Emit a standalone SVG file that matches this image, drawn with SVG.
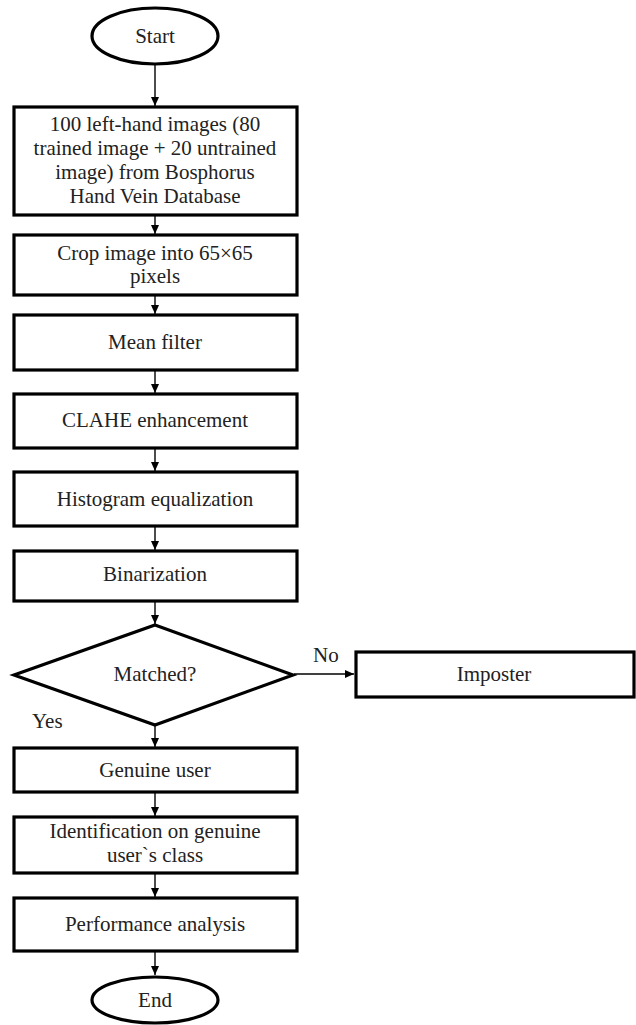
<svg xmlns="http://www.w3.org/2000/svg" width="636" height="1025" viewBox="0 0 636 1025">
<style>
.box{fill:#fff;stroke:#000;stroke-width:3.2}
.t{font-family:"Liberation Serif","Times New Roman",serif;font-size:21px;fill:#222;text-anchor:middle}
.l{font-family:"Liberation Serif","Times New Roman",serif;font-size:21px;fill:#222}
.c{stroke:#000;stroke-width:1.4;fill:none;marker-end:url(#ah)}
</style>
<defs>
<marker id="ah" markerWidth="10" markerHeight="10" refX="9" refY="5" orient="auto" markerUnits="userSpaceOnUse">
<path d="M0,1 L9,5 L0,9 Z" fill="#000"/>
</marker>
</defs>
<rect width="636" height="1025" fill="#fff"/>
<g id="connectors">
<line class="c" x1="155" y1="65" x2="155" y2="106"/>
<line class="c" x1="155" y1="215" x2="155" y2="234"/>
<line class="c" x1="155" y1="296" x2="155" y2="314"/>
<line class="c" x1="155" y1="371" x2="155" y2="393"/>
<line class="c" x1="155" y1="449" x2="155" y2="471"/>
<line class="c" x1="155" y1="527" x2="155" y2="550"/>
<line class="c" x1="155" y1="602" x2="155" y2="624"/>
<line class="c" x1="294" y1="674" x2="354" y2="674"/>
<line class="c" x1="155" y1="726" x2="155" y2="747"/>
<line class="c" x1="155" y1="793" x2="155" y2="816"/>
<line class="c" x1="155" y1="874" x2="155" y2="897"/>
<line class="c" x1="155" y1="952" x2="155" y2="975"/>
<text class="l" x="313" y="662">No</text>
<text class="l" x="32" y="728">Yes</text>
</g>
<g id="start">
<ellipse class="box" cx="155" cy="36" rx="63" ry="28"/>
<text class="t" x="155" y="43">Start</text>
</g>
<g id="input">
<rect class="box" x="14" y="107" width="283" height="108"/>
<text class="t" x="155" y="131">100 left-hand images (80</text>
<text class="t" x="155" y="155">trained image + 20 untrained</text>
<text class="t" x="155" y="179">image) from Bosphorus</text>
<text class="t" x="155" y="203">Hand Vein Database</text>
</g>
<g id="crop">
<rect class="box" x="14" y="235" width="283" height="60"/>
<text class="t" x="155" y="260">Crop image into  65×65</text>
<text class="t" x="155" y="283">pixels</text>
</g>
<g id="mean">
<rect class="box" x="14" y="315" width="283" height="55"/>
<text class="t" x="155" y="349">Mean filter</text>
</g>
<g id="clahe">
<rect class="box" x="14" y="394" width="283" height="54"/>
<text class="t" x="155" y="427">CLAHE enhancement</text>
</g>
<g id="histogram">
<rect class="box" x="14" y="472" width="283" height="54"/>
<text class="t" x="155" y="506">Histogram equalization</text>
</g>
<g id="binarization">
<rect class="box" x="14" y="551" width="283" height="50"/>
<text class="t" x="155" y="581">Binarization</text>
</g>
<g id="matched">
<polygon class="box" points="155,625 293,675 155,725 14,675"/>
<text class="t" x="155" y="681">Matched?</text>
</g>
<g id="imposter">
<rect class="box" x="356" y="652" width="278" height="45"/>
<text class="t" x="494" y="681">Imposter</text>
</g>
<g id="genuine">
<rect class="box" x="14" y="748" width="283" height="44"/>
<text class="t" x="155" y="777">Genuine user</text>
</g>
<g id="identification">
<rect class="box" x="14" y="817" width="283" height="56"/>
<text class="t" x="155" y="838">Identification  on genuine</text>
<text class="t" x="155" y="862">user`s class</text>
</g>
<g id="performance">
<rect class="box" x="14" y="898" width="283" height="53"/>
<text class="t" x="155" y="931">Performance analysis</text>
</g>
<g id="end">
<ellipse class="box" cx="155" cy="1000" rx="63" ry="23"/>
<text class="t" x="155" y="1007">End</text>
</g>
</svg>
